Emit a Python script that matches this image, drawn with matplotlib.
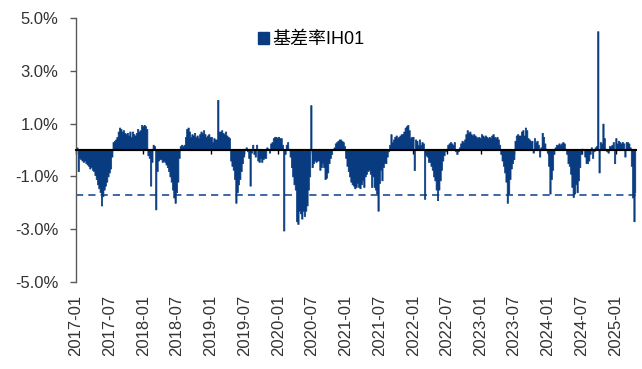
import pandas as pd
import numpy as np
import matplotlib
matplotlib.use("Agg")
import matplotlib.pyplot as plt
from matplotlib.patches import Patch

plt.rcParams["font.family"] = ["Liberation Sans", "Noto Sans CJK SC"]

BAR_COLOR  = "#083B80"
DASH_COLOR = "#2F5C9E"
TEXT_COLOR = "#333333"

SERIES_NAME = "基差率IH01"
DASH_LEVEL  = -1.7  # %

# weekly basis rate (%), one value per Friday of each year
v2017 = [
    0.1, -0.8, -0.3, -0.35,            # Jan
    -0.4, -0.45, -0.4, -0.5,           # Feb
    -0.55, -0.6, -0.7, -0.65, -0.75,   # Mar
    -0.8, -0.95, -1.1, -1.3,           # Apr
    -1.45, -1.6, -2.1, -1.75,          # May
    -1.5, -1.35, -1.2, -1.0, -0.85,    # Jun
    -0.7, -0.25, 0.3, 0.35,            # Jul
    0.4, 0.5, 0.7, 0.85,               # Aug
    0.8, 0.7, 0.75, 0.65, 0.6,         # Sep
    0.65, 0.55, 0.7, 0.5,              # Oct
    0.7, 0.6, 0.55, 0.65,              # Nov
    0.8, 0.7, 0.75, 0.95, 0.9,         # Dec
]
v2018 = [
    0.95, 0.9, 0.8, -0.2,
    -0.3, -1.35, -0.45, 0.2,
    0.15, -2.25, -0.8, -0.4, -0.35,
    -0.35, -0.45, -0.4, -0.45,
    -0.55, -0.65, -0.8, -1.0,
    -1.2, -1.5, -1.8, -2.0, -1.6,
    -1.2, -0.3, 0.15, 0.2,
    0.15, 0.2, 0.5, 0.8, 0.85,
    0.7, 0.5, 0.6, 0.55,
    0.65, 0.5, 0.55, 0.45,
    0.6, 0.7, 0.65, 0.75, 0.6,
    0.5, 0.55, 0.6, 0.5,
]
v2019 = [
    0.5, 0.3, 0.45, 0.4,
    0.4, 1.9, 0.7, 0.7,
    0.75, 0.65, 0.6, 0.7, 0.55,
    0.5, 0.45, -0.4, -0.6,
    -0.75, -1.1, -2.0, -1.6, -1.3,
    -1.1, -0.8, -0.5, -0.25,
    0.05, 0.1, -0.05, -0.3,
    -1.35, -0.1, 0.2, -0.15, -0.25,
    0.2, -0.4, -0.45, -0.3,
    -0.45, -0.35, -0.3, -0.3,
    0.1, 0.05, -0.1, 0.25, 0.3,
    0.45, 0.5, 0.5, 0.45,
]
v2020 = [
    0.5, 0.45, 0.45, 0.2, -3.05,
    -0.15, 0.2, 0.3, 0.05,
    -0.25, -0.65, -1.0, -1.3,
    -1.5, -2.7, -2.8, -2.3,
    -2.4, -2.6, -2.3, -2.5, -2.3,
    -2.1, -1.5, -1.0, 1.7,
    -0.65, -0.5, -0.4, -0.45, -0.4,
    -0.4, -0.75, -0.65, -0.5,
    -0.65, -1.1, -1.05, -0.85,
    -0.5, -0.3, -0.15, 0.0, 0.1,
    0.25, 0.3, 0.35, 0.4,
    0.4, 0.35, 0.3, 0.15,
]
v2021 = [
    -0.3, -0.6, -0.8, -1.0, -1.2,
    -1.3, -1.35, -1.45, -1.4,
    -1.25, -1.4, -1.45, -1.3,
    -1.15, -1.4, -1.0, -0.9, -0.8,
    -0.75, -0.9, -1.4, -1.0,
    -1.4, -1.5, -1.65, -2.3,
    -1.25, -0.75, -1.15, -0.65, -0.5,
    -0.5, -0.25, -0.05, 0.2,
    0.6, 0.3, 0.4, 0.5,
    0.55, 0.45, 0.5, 0.55, 0.6,
    0.6, 0.7, 0.85, 0.9,
    0.95, 0.75, 0.45, 0.5, 0.5,
]
v2022 = [
    -0.76, 0.4, 0.35, 0.2,
    0.4, 0.2, 0.3, 0.25,
    -1.85, -0.2, -0.25, -0.45,
    -0.45, -0.6, -0.75, -1.0, -1.15,
    -1.5, -1.9, -1.5, -1.15,
    -0.75, -0.4, -0.2, -0.05,
    0.05, 0.2, 0.25, 0.3, 0.25,
    0.2, 0.3, -0.05, -0.15,
    -0.05, 0.1, 0.25, 0.35, 0.3,
    0.4, 0.6, 0.75, 0.65,
    0.7, 0.6, 0.55, 0.6,
    0.55, 0.5, 0.45, 0.5, 0.45,
]
v2023 = [
    0.6, 0.55, 0.5, 0.55,
    0.5, 0.45, 0.5, 0.45,
    0.55, 0.6, 0.5, 0.45, 0.5,
    0.4, 0.2, -0.15, -0.4,
    -0.6, -0.85, -1.2, -2.0,
    -1.65, -1.1, -0.7, -0.5, -0.35,
    0.35, 0.55, 0.6, 0.55,
    0.55, 0.7, 0.75, 0.55,
    0.85, 0.75, 0.45, 0.4, 0.35,
    0.35, -0.1, 0.45, 0.3,
    0.35, 0.2, -0.25, 0.1,
    0.65, 0.5, 0.25, 0.05, -0.1,
]
v2024 = [
    -0.6, -1.65, -1.1, -0.75,
    -0.15, 0.1, 0.2, 0.2,
    0.25, 0.2, 0.25, 0.3, 0.25,
    0.05, -0.15, -0.5, -0.6,
    -0.9, -1.4, -1.78, -1.65, -1.3,
    -1.6, -1.15, -0.65, -0.15,
    0.05, 0.0, -0.25, -0.5,
    -0.5, -0.4, -0.15, 0.1, -0.3,
    -0.05, 0.1, 0.15, 4.5,
    -0.85, 0.3, 0.25, 1.0,
    0.45, 0.05, -0.05, -0.1, 0.15,
    0.15, 0.2, 0.3, -0.5,
]
v2025 = [
    0.45, 0.25, 0.35, 0.3, 0.25,
    0.3, 0.25, -0.25, 0.3,
    0.3, 0.25, 0.1, -0.6,
    -1.8, -2.7, -1.6,
]

yearly = {2017: v2017, 2018: v2018, 2019: v2019, 2020: v2020, 2021: v2021,
          2022: v2022, 2023: v2023, 2024: v2024, 2025: v2025}

dates, values = [], []
for yr, vals in yearly.items():
    d = pd.date_range(f"{yr}-01-01", periods=len(vals), freq="W-FRI")
    dates.extend(d)
    values.extend(vals)
dates = pd.DatetimeIndex(dates)
values = np.array(values)

y_ticks = [-5, -3, -1, 1, 3, 5]
x_ticks = pd.date_range("2017-01-01", "2025-01-01", freq="6MS")

fig = plt.figure(figsize=(6.42, 3.69), dpi=100)
ax = fig.add_axes([0.1184, 0.2358, 0.872, 0.7154])

ax.axhline(DASH_LEVEL, color=DASH_COLOR, lw=1.3, dashes=(4, 2.8), zorder=1)
# weekly columns drawn as one stepped area so adjacent weeks leave no seams
ax.fill_between(dates, values, 0, step="mid", color=BAR_COLOR,
                edgecolor=BAR_COLOR, linewidth=0.5, zorder=2)
ax.axhline(0, color="black", lw=1.5, zorder=3)

ax.set_xlim(pd.Timestamp("2017-01-01"), pd.Timestamp("2025-04-21"))
ax.set_ylim(-5, 5)

ax.set_yticks(y_ticks)
ax.set_yticklabels([f"{v:.1f}%" for v in y_ticks], fontsize=12, color=TEXT_COLOR)
ax.set_xticks(x_ticks)
ax.set_xticklabels([d.strftime("%Y-%m") for d in x_ticks], rotation=90,
                   fontsize=12, color=TEXT_COLOR)
ax.tick_params(axis="x", length=0, pad=9)
ax.tick_params(axis="y", length=4.5, width=1, color="#595959", pad=8)

for s in ["top", "right", "bottom"]:
    ax.spines[s].set_visible(False)
ax.spines["left"].set_color("#595959")
ax.spines["left"].set_linewidth(1.0)

# category axis crossing at zero: ticks hang down from the zero line
sec = ax.secondary_xaxis(0.5)
sec.set_alignment("bottom")
sec.set_xticks(x_ticks)
sec.tick_params(axis="x", direction="out", length=3, width=1, color="black",
                labelbottom=False, labeltop=False)
sec.spines["bottom"].set_color("black")
sec.spines["bottom"].set_linewidth(1.5)

ax.legend(handles=[Patch(color=BAR_COLOR, label=SERIES_NAME)],
          loc="center left", bbox_to_anchor=(0.312, 0.917), frameon=False,
          handlelength=0.6, handleheight=0.6, handletextpad=0.2,
          borderaxespad=0, prop={"size": 13})

fig.savefig("out.png", dpi=100)
